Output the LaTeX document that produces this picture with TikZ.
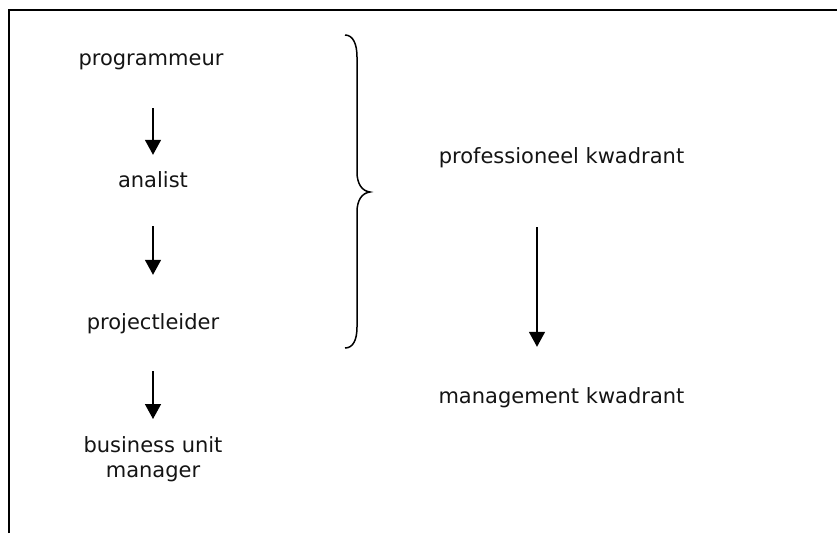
\documentclass[tikz,border=0pt]{standalone}
\usepackage{fontspec}
\setmainfont{DejaVu Sans}
\usetikzlibrary{arrows.meta}
\begin{document}
\begin{tikzpicture}[x=1pt,y=-1pt,
  lbl/.style={inner sep=0pt,font=\fontsize{21}{25}\selectfont,text=black!92,text height=16pt,text depth=5pt},
  mlbl/.style={inner sep=0pt,font=\fontsize{21}{25}\selectfont,text=black!92,align=center},
  arr/.style={line width=1.5pt,-{Triangle[width=16pt,length=15pt]}},
  frame/.style={line width=2.2pt},
  bracestyle/.style={line width=1.5pt}]
\useasboundingbox (0,0) rectangle (837,533);
% frame (top and left edges only visible)
\draw[frame] (9,533) -- (9,10) -- (837,10);
% left column
\node[lbl,anchor=base] (prog) at (151,65) {programmeur};
\node[lbl,anchor=base] (anal) at (153,187) {analist};
\node[lbl,anchor=base] (proj) at (153,329) {projectleider};
\node[mlbl,anchor=north] (bum) at (153,436) {business unit\\manager};
\draw[arr,shorten <=38pt,shorten >=16pt] (prog.south -| anal.south) -- (anal.north);
\draw[arr,shorten <=34pt,shorten >=38pt] (anal.south) -- (proj.north);
\draw[arr,shorten <=37pt,shorten >=17pt] (proj.south) -- (bum.north);
% brace
\draw[bracestyle] (345,35) .. controls (353,35) and (357,44) .. (357,57) -- (357,172)
  .. controls (357,184) and (362,191) .. (370,192)
  .. controls (362,193) and (357,200) .. (357,212) -- (357,327)
  .. controls (357,340) and (353,348) .. (345,348);
% right column
\node[lbl,anchor=base] (prof) at (561.5,163) {professioneel kwadrant};
\node[lbl,anchor=base] (mgmt) at (561.5,403) {management kwadrant};
\draw[arr,shorten <=59pt,shorten >=40pt] ([xshift=-24.5pt]prof.south) -- ([xshift=-24.5pt]mgmt.north);
\end{tikzpicture}
\end{document}
